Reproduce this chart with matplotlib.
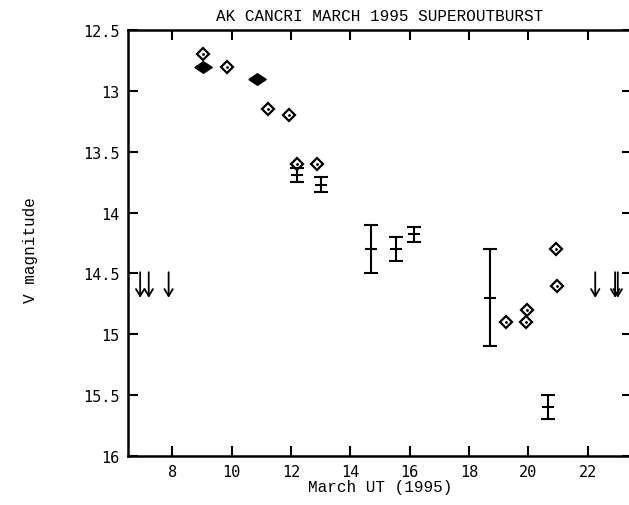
#!/usr/bin/env python3
"""AK Cancri March 1995 superoutburst light curve."""

import matplotlib

matplotlib.use("Agg")
import matplotlib.pyplot as plt

# visual estimates (open diamonds)
open_day = [9.02, 9.85, 11.22, 11.93, 12.21, 12.86, 19.25, 19.92, 19.95, 20.93, 20.97]
open_mag = [12.70, 12.80, 13.15, 13.20, 13.60, 13.60, 14.90, 14.90, 14.80, 14.30, 14.60]

# filled diamonds
filled_day = [9.02, 10.86]
filled_mag = [12.80, 12.90]

# CCD / photoelectric points with errors
err_day = [12.21, 13.02, 14.68, 15.53, 16.14, 18.71, 20.66]
err_mag = [13.69, 13.77, 14.30, 14.30, 14.18, 14.70, 15.60]
err_size = [0.06, 0.06, 0.20, 0.10, 0.06, 0.40, 0.10]

# fainter-than limits (arrows)
limit_day = [6.91, 7.20, 7.87, 22.26, 22.93, 23.02]
limit_mag = [14.49, 14.49, 14.49, 14.49, 14.49, 14.49]
limit_tip = [14.70, 14.70, 14.70, 14.70, 14.70, 14.70]

x_ticks = [8, 10, 12, 14, 16, 18, 20, 22]
y_ticks = [12.5, 13, 13.5, 14, 14.5, 15, 15.5, 16]
y_labels = ["12.5", "13", "13.5", "14", "14.5", "15", "15.5", "16"]

MONO = ["Liberation Mono", "DejaVu Sans Mono"]
TICKF = ["DejaVu Sans Mono"]
WIDE_DIAMOND = [(-1.35, 0), (0, 0.9), (1.35, 0), (0, -0.9), (-1.35, 0)]

fig = plt.figure(figsize=(6.29, 5.06), dpi=100)
ax = fig.add_axes([128 / 629, 1 - 457 / 506, (632 - 128) / 629, (457 - 31) / 506])

ax.plot(open_day, open_mag, linestyle="none", marker="D", markersize=6,
        markerfacecolor="white", markeredgecolor="black", markeredgewidth=1.6)
ax.plot(open_day, open_mag, linestyle="none", marker=".", markersize=2, color="black")
ax.plot(filled_day, filled_mag, linestyle="none", marker=WIDE_DIAMOND, markersize=12.5,
        color="black")

ax.errorbar(err_day, err_mag, yerr=err_size, fmt="_", color="black", markersize=9,
            elinewidth=1.5, capsize=5, capthick=1.5, markeredgewidth=1.5)

for d, m0, m1 in zip(limit_day, limit_mag, limit_tip):
    ax.annotate("", xy=(d, m1), xytext=(d, m0),
                arrowprops={"arrowstyle": "->,head_length=0.5,head_width=0.3",
                            "color": "black", "lw": 1.3, "shrinkA": 0, "shrinkB": 0})

ax.set_xlim(6.5, 23.5)
ax.set_ylim(16, 12.5)
ax.set_xticks(x_ticks)
ax.set_yticks(y_ticks)
ax.set_yticklabels(y_labels)
ax.tick_params(direction="in", length=7, width=1.5, top=True, right=True,
               labelsize=11, pad=6)
for lab in ax.get_xticklabels() + ax.get_yticklabels():
    lab.set_family(TICKF)
for sp in ax.spines.values():
    sp.set_linewidth(1.8)

ax.set_title("AK CANCRI MARCH 1995 SUPEROUTBURST", family=MONO, fontsize=11.5,
             pad=7)
ax.set_xlabel("March UT (1995)", family=MONO, fontsize=11.5, labelpad=0)
fig.text(30 / 629, 1 - 250 / 506, "V magnitude", family=MONO, fontsize=11.5,
         rotation=90, ha="center", va="center")

fig.savefig("out.png", dpi=100)
